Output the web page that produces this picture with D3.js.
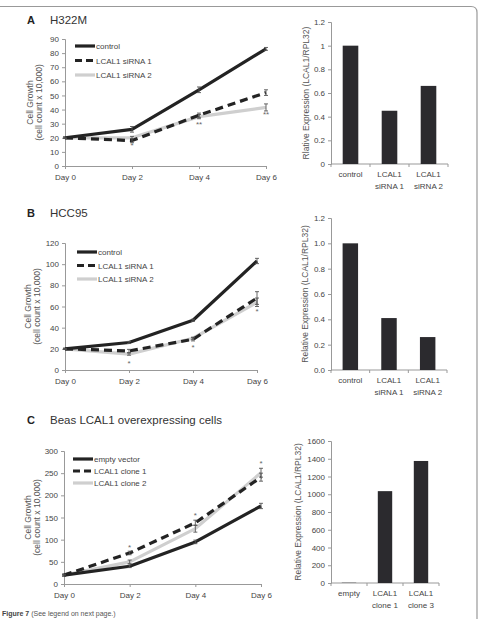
<!DOCTYPE html>
<html>
<head>
<meta charset="utf-8">
<script src="https://cdn.jsdelivr.net/npm/d3@7"></script>
<style>
  body { margin: 0; background: #fff; }
  svg { display: block; font-family: "Liberation Sans", Arial, sans-serif; }
  .tick-lbl { font-size: 8px; fill: #444; }
  .ttl { font-size: 8.5px; fill: #555; }
</style>
</head>
<body>
<div id="stage"></div>
<script>
const days = ["Day 0", "Day 2", "Day 4", "Day 6"];

// panel A - H322M
const aSeriesNames = ["control", "LCAL1 siRNA 1", "LCAL1 siRNA 2"];
const aControl = [20, 26, 54, 83];
const aSi1 = [20, 18, 36, 52];
const aSi2 = [20, 20, 35, 41.5];
const aControlErr = [0.5, 2, 2, 1];
const aSi1Err = [0.5, 1.5, 1.5, 2];
const aSi2Err = [0.5, 1, 1.5, 2.5];
const aYTicks = [0, 10, 20, 30, 40, 50, 60, 70, 80, 90];
const aStars = [["Day 2", 15, "*"], ["Day 4", 30, "**"], ["Day 6", 37, "**"]];
const aBarCats = [["control"], ["LCAL1", "siRNA 1"], ["LCAL1", "siRNA 2"]];
const aBarVals = [1.0, 0.45, 0.66];
const aBarTicks = [0, 0.2, 0.4, 0.6, 0.8, 1, 1.2];
const aBarTickLabels = ["0", "0.2", "0.4", "0.6", "0.8", "1", "1.2"];

// panel B - HCC95
const bSeriesNames = ["control", "LCAL1 siRNA 1", "LCAL1 siRNA 2"];
const bControl = [20, 26, 47, 103];
const bSi1 = [20, 18, 29, 68];
const bSi2 = [20, 15, 30, 64];
const bControlErr = [0.5, 1, 1, 2.5];
const bSi1Err = [0.5, 1.5, 1.5, 6];
const bSi2Err = [0.5, 1, 1, 4];
const bYTicks = [0, 20, 40, 60, 80, 100, 120];
const bStars = [["Day 2", 7, "*"], ["Day 4", 22, "*"], ["Day 6", 56, "*"]];
const bBarCats = [["control"], ["LCAL1", "siRNA 1"], ["LCAL1", "siRNA 2"]];
const bBarVals = [1.0, 0.41, 0.26];
const bBarTicks = [0, 0.2, 0.4, 0.6, 0.8, 1.0, 1.2];
const bBarTickLabels = ["0.0", "0.2", "0.4", "0.6", "0.8", "1.0", "1.2"];

// panel C - Beas overexpressing
const cSeriesNames = ["empty vector", "LCAL1 clone 1", "LCAL1 clone 2"];
const cEmpty = [20, 40, 95, 176];
const cClone1 = [20, 70, 138, 241];
const cClone2 = [20, 50, 125, 251];
const cEmptyErr = [2, 3, 4, 6];
const cClone1Err = [2, 4, 6, 9];
const cClone2Err = [2, 4, 8, 10];
const cYTicks = [0, 50, 100, 150, 200, 250, 300];
const cStars = [["Day 2", 83, "*"], ["Day 4", 155, "*"], ["Day 6", 272, "*"]];
const cBarCats = [["empty"], ["LCAL1", "clone 1"], ["LCAL1", "clone 3"]];
const cBarVals = [3, 1035, 1375];
const cBarTicks = [0, 200, 400, 600, 800, 1000, 1200, 1400, 1600];
const cBarTickLabels = ["0", "200", "400", "600", "800", "1000", "1200", "1400", "1600"];

const W = 478, H = 619;
const svg = d3.select("#stage").append("svg").attr("width", W).attr("height", H);

// frame
svg.append("path")
  .attr("d", "M0,6.5 H471 Q477,6.5 477,12.5 V619")
  .attr("fill", "none").attr("stroke", "#999").attr("stroke-width", 1.2);

const styles = [
  { color: "#232323", dash: null },
  { color: "#232323", dash: "8,5" },
  { color: "#cfcfcf", dash: null }
];

function panelTitle(letter, text, y) {
  svg.append("text").attr("x", 27).attr("y", y).attr("font-size", 11)
    .attr("font-weight", "bold").attr("fill", "#222").text(letter);
  svg.append("text").attr("x", 50).attr("y", y).attr("font-size", 11.5)
    .attr("fill", "#333").text(text);
}

function linePanel(o) {
  const g = svg.append("g");
  const x = d3.scalePoint().domain(days).range([o.x0, o.x1]);
  const y = d3.scaleLinear().domain([0, o.ymax]).range([o.yb, o.yt]);

  const yAx = g.append("g").attr("transform", `translate(${o.x0},0)`)
    .call(d3.axisLeft(y).tickValues(o.yTicks).tickSize(3).tickPadding(3));
  const xAx = g.append("g").attr("transform", `translate(0,${o.yb})`)
    .call(d3.axisBottom(x).tickSize(3).tickPadding(4));
  [yAx, xAx].forEach(a => {
    a.select(".domain").attr("stroke", "#999");
    a.selectAll(".tick line").attr("stroke", "#999");
    a.selectAll("text").attr("class", "tick-lbl").attr("font-family", null).attr("font-size", null);
  });
  xAx.selectAll("text").attr("dy", "0.9em");

  const cy = (o.yt + o.yb) / 2;
  g.append("text").attr("class", "ttl").attr("text-anchor", "middle")
    .attr("transform", `translate(${o.titleX},${cy}) rotate(-90)`).text("Cell Growth");
  g.append("text").attr("class", "ttl").attr("text-anchor", "middle")
    .attr("transform", `translate(${o.titleX + 9},${cy}) rotate(-90)`).text("(cell count x 10,000)");

  const line = d3.line().x((d, i) => x(days[i])).y(d => y(d));
  // draw gray first, then dashed, then control on top
  [2, 1, 0].forEach(k => {
    const st = styles[k];
    g.append("path").datum(o.series[k]).attr("d", line)
      .attr("fill", "none").attr("stroke", st.color).attr("stroke-width", 3.2)
      .attr("stroke-dasharray", st.dash).attr("stroke-linejoin", "round");
    o.series[k].forEach((v, i) => {
      const e = o.errs[k][i];
      const xx = x(days[i]);
      g.append("path")
        .attr("d", `M${xx - 2},${y(v + e)}H${xx + 2}M${xx},${y(v + e)}V${y(v - e)}M${xx - 2},${y(v - e)}H${xx + 2}`)
        .attr("stroke", "#555").attr("stroke-width", 0.9).attr("fill", "none");
    });
  });

  o.stars.forEach(s => {
    g.append("text").attr("x", x(s[0])).attr("y", y(s[1]) + 3)
      .attr("text-anchor", "middle").attr("font-size", 8).attr("fill", "#666").text(s[2]);
  });

  // legend
  o.names.forEach((n, k) => {
    const ly = o.legY + k * o.legGap;
    g.append("line").attr("x1", o.legX).attr("x2", o.legX + 20).attr("y1", ly).attr("y2", ly)
      .attr("stroke", styles[k].color).attr("stroke-width", 3.2)
      .attr("stroke-dasharray", styles[k].dash ? "7,4" : null);
    g.append("text").attr("x", o.legX + 21).attr("y", ly + 3).attr("font-size", 8)
      .attr("fill", "#444").text(n);
  });
}

function barPanel(o) {
  const g = svg.append("g");
  const x = d3.scaleBand().domain(d3.range(o.vals.length)).range([o.x0, o.x1])
    .paddingInner(0.6).paddingOuter(0.3);
  const y = d3.scaleLinear().domain([0, o.ymax]).range([o.yb, o.yt]);

  const yAx = g.append("g").attr("transform", `translate(${o.x0},0)`)
    .call(d3.axisLeft(y).tickValues(o.ticks).tickFormat((d, i) => o.tickLabels[i])
      .tickSize(3).tickPadding(3));
  yAx.select(".domain").attr("stroke", "#999");
  yAx.selectAll(".tick line").attr("stroke", "#999");
  yAx.selectAll("text").attr("class", "tick-lbl").attr("font-family", null).attr("font-size", null);

  g.append("line").attr("x1", o.x0).attr("x2", o.x1).attr("y1", o.yb).attr("y2", o.yb)
    .attr("stroke", "#999");
  const step = (o.x1 - o.x0) / o.vals.length;
  d3.range(o.vals.length + 1).forEach(i => {
    g.append("line").attr("x1", o.x0 + i * step).attr("x2", o.x0 + i * step)
      .attr("y1", o.yb).attr("y2", o.yb + 3).attr("stroke", "#999");
  });

  g.selectAll("rect.bar").data(o.vals).join("rect").attr("class", "bar")
    .attr("x", (d, i) => x(i)).attr("width", x.bandwidth())
    .attr("y", d => y(d)).attr("height", d => y(0) - y(d))
    .attr("fill", "#2b2a2e");

  o.cats.forEach((c, i) => {
    const t = g.append("text").attr("class", "tick-lbl").attr("text-anchor", "middle")
      .attr("x", x(i) + x.bandwidth() / 2).attr("y", o.yb + 13);
    c.forEach((s, j) => t.append("tspan").attr("x", x(i) + x.bandwidth() / 2)
      .attr("dy", j === 0 ? 0 : 11.5).text(s));
  });

  g.append("text").attr("class", "ttl").attr("text-anchor", "middle")
    .attr("transform", `translate(${o.titleX},${(o.yt + o.yb) / 2}) rotate(-90)`).text(o.title);
}

panelTitle("A", "H322M", 24);
linePanel({
  x0: 65, x1: 266, yt: 39, yb: 166, ymax: 90, yTicks: aYTicks, titleX: 33,
  series: [aControl, aSi1, aSi2], errs: [aControlErr, aSi1Err, aSi2Err],
  stars: aStars, names: aSeriesNames, legX: 75, legY: 46, legGap: 14.5
});
barPanel({
  x0: 331, x1: 448, yt: 22, yb: 164, ymax: 1.2, ticks: aBarTicks, tickLabels: aBarTickLabels,
  vals: aBarVals, cats: aBarCats, titleX: 309, title: "Rlative Expression (LCAL1/RPL32)"
});

panelTitle("B", "HCC95", 217);
linePanel({
  x0: 65, x1: 257, yt: 243, yb: 370, ymax: 120, yTicks: bYTicks, titleX: 31,
  series: [bControl, bSi1, bSi2], errs: [bControlErr, bSi1Err, bSi2Err],
  stars: bStars, names: bSeriesNames, legX: 77, legY: 252, legGap: 13.5
});
barPanel({
  x0: 331, x1: 447, yt: 218, yb: 370, ymax: 1.2, ticks: bBarTicks, tickLabels: bBarTickLabels,
  vals: bBarVals, cats: bBarCats, titleX: 308, title: "Relative Expression (LCAL1/RPL32)"
});

panelTitle("C", "Beas LCAL1 overexpressing cells", 424);
linePanel({
  x0: 64, x1: 261, yt: 451, yb: 584, ymax: 300, yTicks: cYTicks, titleX: 31,
  series: [cEmpty, cClone1, cClone2], errs: [cEmptyErr, cClone1Err, cClone2Err],
  stars: cStars, names: cSeriesNames, legX: 73, legY: 459, legGap: 12
});
barPanel({
  x0: 331, x1: 439, yt: 441, yb: 583, ymax: 1600, ticks: cBarTicks, tickLabels: cBarTickLabels,
  vals: cBarVals, cats: cBarCats, titleX: 301, title: "Relative Expression (LCAL1/RPL32)"
});

// caption
const cap = svg.append("text").attr("x", 2).attr("y", 616).attr("font-size", 7).attr("fill", "#555");
cap.append("tspan").attr("font-weight", "bold").attr("fill", "#444").text("Figure 7 ");
cap.append("tspan").text("(See legend on next page.)");
</script>
</body>
</html>
